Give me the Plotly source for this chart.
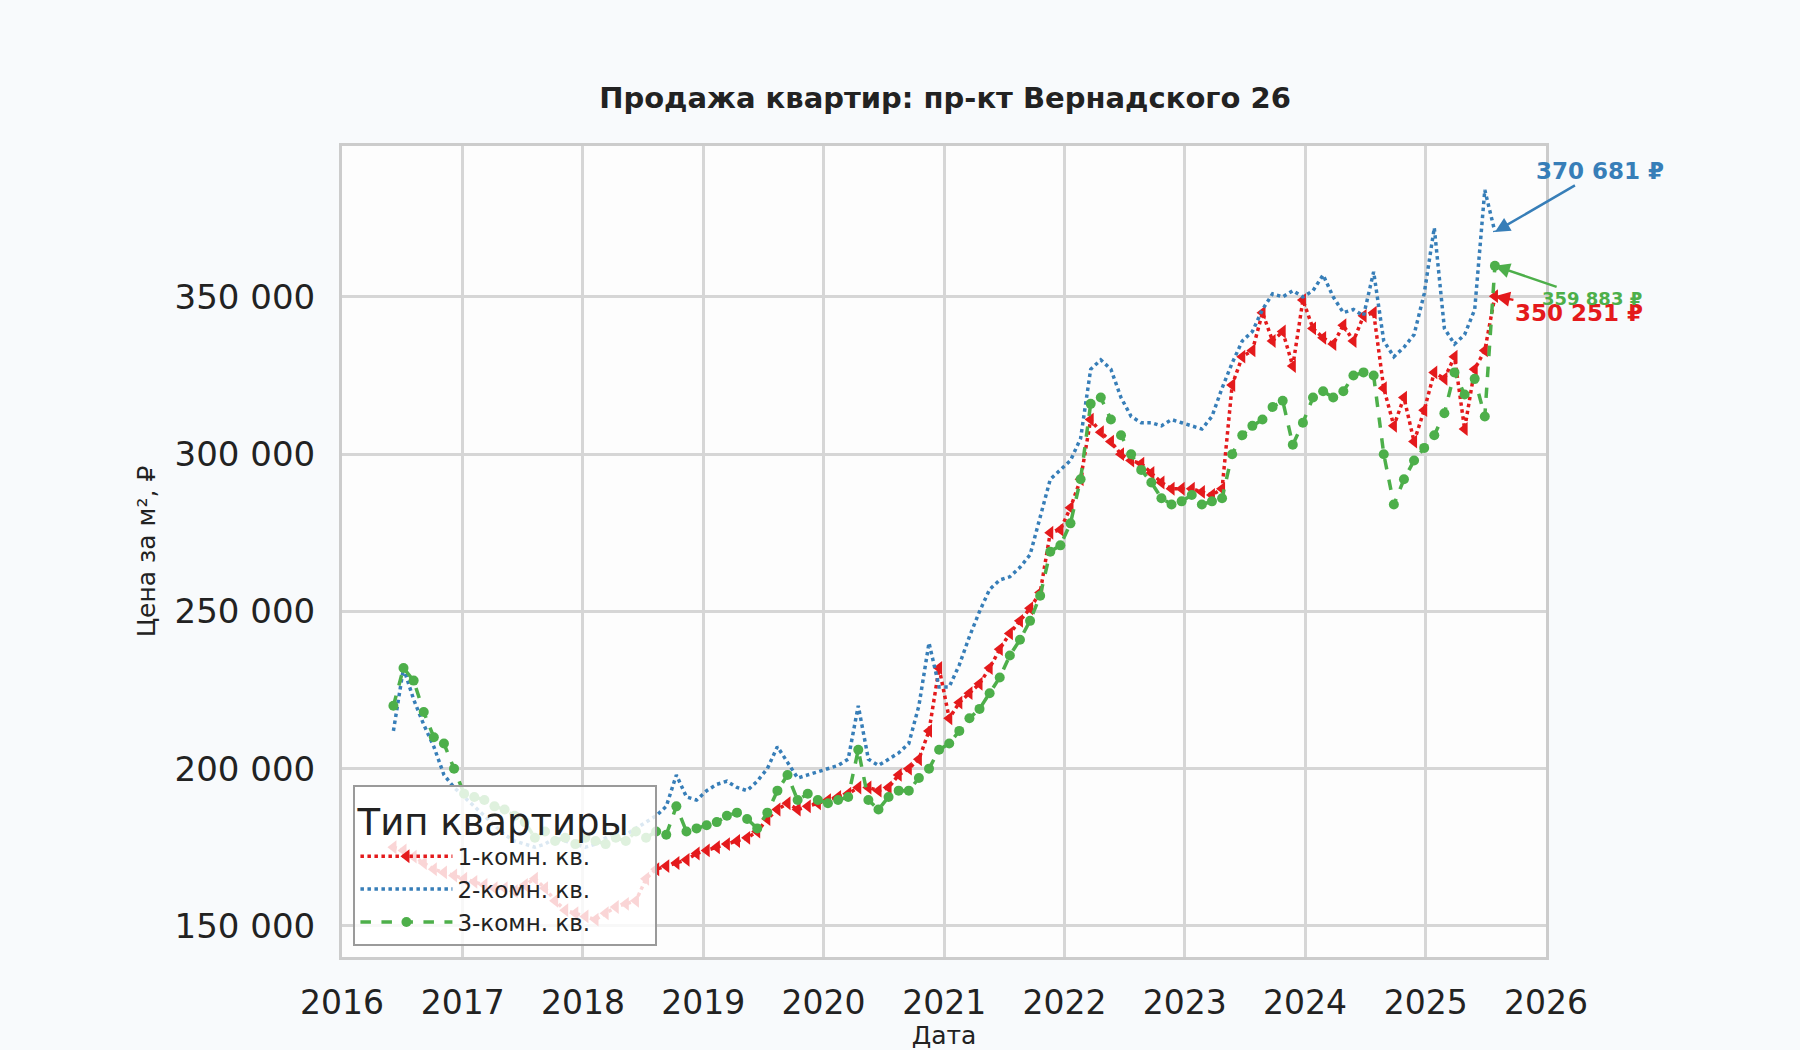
import pandas as pd
import plotly.graph_objects as go

# roughly monthly points, Jun 2016 .. end of Jul 2025
dates = pd.date_range('2016-06-05', '2025-07-30', periods=110)

# 1-room, thousands RUB per m2
price_1k = [
    175, 174, 172, 170, 168, 167, 166,
    165, 164, 163, 162, 162, 161, 163, 165, 162, 158, 155, 154,
    153, 152, 154, 156, 157, 158, 165, 168, 169, 170, 171, 173,
    174, 175, 176, 177, 178, 180, 184, 187, 189, 187, 188, 189,
    190, 191, 192, 194, 194, 193, 194, 198, 200, 203, 212, 232,
    216, 221, 224, 227, 232, 238, 243, 247, 251, 256, 275, 276,
    283, 292, 311, 307, 304, 300, 298, 297, 294, 291, 289, 289,
    289, 288, 287, 289, 322, 331, 333, 345, 336, 339, 328, 349,
    340, 337, 335, 341, 336, 344, 345, 321, 309, 318, 304, 314,
    326, 324, 331, 308, 327, 333, 350.251,
]
# 2-room
price_2k = [
    212, 232, 222, 214, 207, 198, 194,
    191, 188, 185, 182, 179, 177, 176, 175, 176, 178, 177, 176,
    175, 176, 178, 180, 179, 181, 183, 185, 188, 198, 191, 190,
    193, 195, 196, 194, 193, 196, 200, 207, 202, 197, 198, 199,
    200, 201, 203, 220, 203, 201, 203, 205, 208, 220, 240, 226,
    226, 233, 242, 250, 257, 260, 261, 264, 268, 280, 292, 295,
    298, 305, 327, 330, 327, 318, 312, 310, 310, 309, 311, 310,
    309, 308, 312, 321, 329, 336, 339, 346, 351, 350, 352, 350,
    352, 357, 350, 345, 346, 344, 358, 336, 331, 334, 338, 351,
    372, 340, 335, 338, 346, 384, 370.681,
]
# 3-room
price_3k = [
    220, 232, 228, 218, 210, 208, 200,
    192, 191, 190, 188, 187, 185, 183, 178, 180, 177, 178, 176,
    178, 177, 176, 178, 177, 180, 178, 180, 179, 188, 180, 181,
    182, 183, 185, 186, 184, 181, 186, 193, 198, 190, 192, 190,
    189, 190, 191, 206, 190, 187, 191, 193, 193, 197, 200, 206,
    208, 212, 216, 219, 224, 229, 236, 241, 247, 255, 269, 271,
    278, 292, 316, 318, 311, 306, 300, 295, 291, 286, 284, 285,
    287, 284, 285, 286, 300, 306, 309, 311, 315, 317, 303, 310,
    318, 320, 318, 320, 325, 326, 325, 300, 284, 292, 298, 302,
    306, 313, 326, 319, 324, 312, 359.883,
]

names = ['1-комн. кв.', '2-комн. кв.', '3-комн. кв.']
colors = ['#e41a1c', '#377eb8', '#4daf4a']
last_labels = ['350 251 ₽', '370 681 ₽', '359 883 ₽']

fig = go.Figure()
fig.add_trace(go.Scatter(
    x=dates, y=[v * 1000 for v in price_1k], name=names[0], mode='lines+markers',
    line=dict(color=colors[0], width=3.5, dash='dot'),
    marker=dict(symbol='triangle-left', size=12, color=colors[0])))
fig.add_trace(go.Scatter(
    x=dates, y=[v * 1000 for v in price_2k], name=names[1], mode='lines',
    line=dict(color=colors[1], width=3.5, dash='dot')))
fig.add_trace(go.Scatter(
    x=dates, y=[v * 1000 for v in price_3k], name=names[2], mode='lines+markers',
    line=dict(color=colors[2], width=3.5, dash='dash'),
    marker=dict(symbol='circle', size=10, color=colors[2])))

# labels for the last values
offsets = [(84, 17, 23), (105, -61, 23), (97, 33, 18)]
for s, series in enumerate([price_1k, price_2k, price_3k]):
    ax, ay, fs = offsets[s]
    fig.add_annotation(
        x=dates[-1], y=series[-1] * 1000, ax=ax, ay=ay,
        text='<b>%s</b>' % last_labels[s],
        font=dict(size=fs, color=colors[s]),
        showarrow=True, arrowhead=2, arrowsize=1.2, arrowwidth=2.5,
        arrowcolor=colors[s])

fig.update_layout(
    width=1800, height=1050,
    margin=dict(l=342, r=254, t=146, b=93),
    paper_bgcolor='#f8fafc', plot_bgcolor='#fdfdfd',
    font=dict(family='DejaVu Sans', color='#222222'),
    separators='. ',
    title=dict(text='<b>Продажа квартир: пр-кт Вернадского 26</b>',
               x=0.525, xanchor='center', y=0.907, yanchor='middle',
               font=dict(size=29, color='#222222')),
    legend=dict(
        x=0.0095, y=0.014, xanchor='left', yanchor='bottom',
        bgcolor='rgba(255,255,255,0.82)', bordercolor='#9a9a9a', borderwidth=2,
        font=dict(size=23, color='#222222'),
        title=dict(text='Тип квартиры  ', side='top center',
                   font=dict(size=37, color='#222222')),
        itemwidth=92),
    showlegend=True,
)
fig.update_xaxes(
    range=['2016-01-01', '2026-01-01'], dtick='M12', tickformat='%Y',
    tickfont=dict(size=33), ticklabelstandoff=14,
    showgrid=True, gridcolor='#d6d6d6', gridwidth=2.5,
    showline=True, linecolor='#cccccc', linewidth=3, mirror=True,
    title=dict(text='Дата', font=dict(size=25), standoff=10),
    automargin=False, zeroline=False)
fig.update_yaxes(
    range=[140100, 398000], tick0=150000, dtick=50000, tickformat=',d',
    tickfont=dict(size=34), ticklabelstandoff=17,
    showgrid=True, gridcolor='#d6d6d6', gridwidth=2.5,
    showline=True, linecolor='#cccccc', linewidth=3, mirror=True,
    title=dict(text='Цена за м², ₽', font=dict(size=25), standoff=12),
    automargin=False, zeroline=False)

fig.write_html('out.html', config={'displayModeBar': False},
               post_script="document.body.style.margin='0';")
